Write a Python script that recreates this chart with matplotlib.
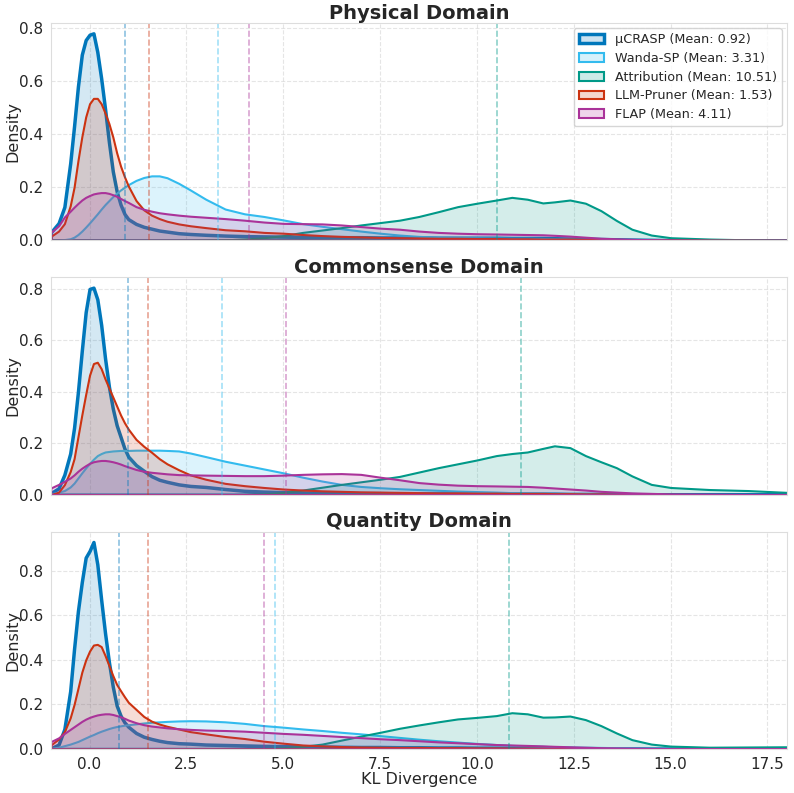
import numpy as np
import matplotlib
matplotlib.use("Agg")
import matplotlib.pyplot as plt
import seaborn as sns
from matplotlib.colors import to_rgba
from matplotlib.patches import Patch

#=======================================================
# Data (densities)
#=======================================================

kl_grid = [-1.0, -0.8, -0.65, -0.5, -0.4, -0.3, -0.2, -0.1, 0.0, 0.1,
           0.2, 0.3, 0.4, 0.5, 0.6, 0.7, 0.8, 0.9, 1.0, 1.2,
           1.4, 1.6, 1.8, 2.0, 2.3, 2.6, 3.0, 3.5, 4.0, 4.5,
           5.0, 5.5, 6.0, 6.5, 7.0, 7.5, 8.0, 8.5, 9.0, 9.5,
           10.0, 10.5, 10.9, 11.3, 11.7, 12.0, 12.4, 12.8, 13.2, 13.6,
           14.0, 14.5, 15.0, 16.0, 17.0, 18.0]

methods = ["µCRASP", "Wanda-SP", "Attribution", "LLM-Pruner", "FLAP"]
colors  = ["#0077BB", "#33BBEE", "#009988", "#CC3311", "#AA3399"]
domains = ["Physical Domain", "Commonsense Domain", "Quantity Domain"]

# Physical domain
phys_crasp = [0.03, 0.065, 0.126, 0.29, 0.43, 0.58, 0.70, 0.755, 0.775, 0.78,
              0.71, 0.61, 0.495, 0.37, 0.26, 0.185, 0.135, 0.10, 0.08, 0.062,
              0.051, 0.044, 0.037, 0.033, 0.027, 0.024, 0.021, 0.018, 0.016, 0.015,
              0.014, 0.013, 0.012, 0.012, 0.012, 0.011, 0.011, 0.011, 0.010, 0.010,
              0.010, 0.010, 0.009, 0.009, 0.009, 0.008, 0.007, 0.006, 0.005, 0.004,
              0.003, 0.002, 0.001, 0.0, 0.0, 0.0]
phys_wanda = [0.0, 0.001, 0.003, 0.006, 0.012, 0.022, 0.035, 0.05, 0.066, 0.083,
              0.10, 0.118, 0.135, 0.15, 0.165, 0.178, 0.19, 0.20, 0.21, 0.226,
              0.237, 0.243, 0.243, 0.236, 0.215, 0.19, 0.155, 0.118, 0.10, 0.09,
              0.077, 0.063, 0.053, 0.044, 0.035, 0.027, 0.02, 0.015, 0.012, 0.011,
              0.010, 0.009, 0.008, 0.008, 0.007, 0.006, 0.005, 0.004, 0.003, 0.002,
              0.001, 0.0, 0.0, 0.0, 0.0, 0.0]
phys_attr  = [0.0, 0.0, 0.0, 0.0, 0.0, 0.0, 0.0, 0.0, 0.0, 0.0,
              0.0, 0.0, 0.0, 0.0, 0.0, 0.0, 0.0, 0.0, 0.0, 0.0,
              0.0, 0.0, 0.0, 0.0, 0.0, 0.0, 0.001, 0.002, 0.005, 0.01,
              0.018, 0.03, 0.039, 0.048, 0.058, 0.067, 0.076, 0.09, 0.108, 0.127,
              0.14, 0.152, 0.162, 0.155, 0.141, 0.145, 0.152, 0.14, 0.112, 0.075,
              0.042, 0.02, 0.01, 0.005, 0.002, 0.0]
phys_llm   = [0.015, 0.035, 0.063, 0.13, 0.20, 0.30, 0.39, 0.465, 0.515, 0.535,
              0.535, 0.515, 0.48, 0.44, 0.39, 0.33, 0.28, 0.24, 0.205, 0.15,
              0.115, 0.095, 0.082, 0.072, 0.062, 0.055, 0.048, 0.04, 0.036, 0.03,
              0.027, 0.022, 0.018, 0.015, 0.013, 0.011, 0.01, 0.009, 0.008, 0.008,
              0.007, 0.007, 0.006, 0.006, 0.005, 0.005, 0.005, 0.004, 0.004, 0.003,
              0.002, 0.001, 0.001, 0.0, 0.0, 0.0]
phys_flap  = [0.03, 0.055, 0.088, 0.11, 0.125, 0.139, 0.152, 0.162, 0.169, 0.175,
              0.178, 0.18, 0.18, 0.177, 0.172, 0.166, 0.158, 0.15, 0.143, 0.127,
              0.117, 0.11, 0.104, 0.10, 0.095, 0.091, 0.087, 0.082, 0.076, 0.069,
              0.064, 0.063, 0.062, 0.058, 0.052, 0.046, 0.042, 0.035, 0.03, 0.027,
              0.025, 0.024, 0.023, 0.022, 0.021, 0.019, 0.016, 0.012, 0.008, 0.006,
              0.004, 0.002, 0.001, 0.0, 0.0, 0.0]

# Commonsense domain
comm_crasp = [0.006, 0.025, 0.078, 0.16, 0.26, 0.40, 0.56, 0.71, 0.80, 0.805,
              0.76, 0.66, 0.53, 0.42, 0.335, 0.27, 0.225, 0.18, 0.148, 0.115,
              0.093, 0.072, 0.058, 0.05, 0.04, 0.034, 0.03, 0.022, 0.015, 0.012,
              0.01, 0.008, 0.007, 0.007, 0.006, 0.006, 0.005, 0.005, 0.005, 0.005,
              0.005, 0.005, 0.004, 0.004, 0.004, 0.004, 0.003, 0.003, 0.003, 0.002,
              0.002, 0.001, 0.001, 0.0, 0.0, 0.0]
comm_wanda = [0.003, 0.01, 0.016, 0.03, 0.045, 0.065, 0.085, 0.104, 0.122, 0.138,
              0.152, 0.16, 0.166, 0.168, 0.17, 0.171, 0.172, 0.172, 0.172, 0.173,
              0.173, 0.173, 0.173, 0.172, 0.17, 0.162, 0.148, 0.13, 0.115, 0.10,
              0.085, 0.068, 0.053, 0.04, 0.032, 0.027, 0.023, 0.02, 0.017, 0.014,
              0.012, 0.01, 0.008, 0.007, 0.006, 0.005, 0.004, 0.003, 0.002, 0.002,
              0.001, 0.0, 0.0, 0.0, 0.0, 0.0]
comm_attr  = [0.0, 0.0, 0.0, 0.0, 0.0, 0.0, 0.0, 0.0, 0.0, 0.0,
              0.0, 0.0, 0.0, 0.0, 0.0, 0.0, 0.0, 0.0, 0.0, 0.0,
              0.0, 0.0, 0.0, 0.0, 0.0, 0.0, 0.0, 0.0, 0.001, 0.003,
              0.009, 0.018, 0.029, 0.04, 0.05, 0.06, 0.071, 0.088, 0.105, 0.12,
              0.135, 0.152, 0.16, 0.166, 0.18, 0.19, 0.183, 0.152, 0.128, 0.105,
              0.073, 0.04, 0.028, 0.02, 0.016, 0.009]
comm_llm   = [0.0, 0.01, 0.039, 0.09, 0.14, 0.225, 0.31, 0.39, 0.465, 0.51,
              0.515, 0.49, 0.45, 0.415, 0.38, 0.345, 0.31, 0.28, 0.255, 0.215,
              0.188, 0.165, 0.14, 0.12, 0.097, 0.077, 0.06, 0.044, 0.035, 0.028,
              0.022, 0.018, 0.015, 0.013, 0.011, 0.01, 0.009, 0.008, 0.007, 0.007,
              0.006, 0.006, 0.005, 0.005, 0.005, 0.004, 0.004, 0.003, 0.003, 0.002,
              0.002, 0.001, 0.001, 0.0, 0.0, 0.0]
comm_flap  = [0.026, 0.04, 0.052, 0.065, 0.077, 0.091, 0.103, 0.113, 0.122, 0.128,
              0.131, 0.133, 0.133, 0.131, 0.128, 0.124, 0.119, 0.113, 0.108, 0.098,
              0.091, 0.087, 0.084, 0.081, 0.078, 0.077, 0.076, 0.075, 0.074, 0.074,
              0.076, 0.079, 0.081, 0.082, 0.079, 0.068, 0.058, 0.047, 0.041, 0.037,
              0.035, 0.034, 0.033, 0.032, 0.029, 0.026, 0.022, 0.018, 0.013, 0.01,
              0.007, 0.005, 0.003, 0.002, 0.001, 0.001]

# Quantity domain
quan_crasp = [0.003, 0.02, 0.09, 0.26, 0.45, 0.62, 0.75, 0.86, 0.89, 0.93,
              0.83, 0.67, 0.52, 0.39, 0.28, 0.195, 0.15, 0.12, 0.10, 0.072,
              0.055, 0.045, 0.037, 0.031, 0.026, 0.024, 0.02, 0.018, 0.016, 0.014,
              0.013, 0.012, 0.011, 0.01, 0.009, 0.009, 0.008, 0.008, 0.007, 0.007,
              0.006, 0.006, 0.005, 0.005, 0.005, 0.004, 0.004, 0.003, 0.003, 0.002,
              0.002, 0.001, 0.001, 0.0, 0.0, 0.0]
quan_wanda = [0.003, 0.008, 0.015, 0.022, 0.028, 0.034, 0.042, 0.05, 0.058, 0.065,
              0.073, 0.08, 0.086, 0.092, 0.097, 0.101, 0.104, 0.107, 0.109, 0.113,
              0.117, 0.12, 0.122, 0.124, 0.126, 0.127, 0.126, 0.122, 0.115, 0.105,
              0.098, 0.09, 0.083, 0.075, 0.068, 0.06, 0.052, 0.044, 0.037, 0.031,
              0.025, 0.02, 0.016, 0.014, 0.012, 0.01, 0.009, 0.008, 0.007, 0.006,
              0.005, 0.004, 0.003, 0.002, 0.001, 0.0]
quan_attr  = [0.0, 0.0, 0.0, 0.0, 0.0, 0.0, 0.0, 0.0, 0.0, 0.0,
              0.0, 0.0, 0.0, 0.0, 0.0, 0.0, 0.0, 0.0, 0.0, 0.0,
              0.0, 0.0, 0.0, 0.0, 0.0, 0.0, 0.0, 0.0, 0.0, 0.002,
              0.006, 0.012, 0.022, 0.04, 0.058, 0.075, 0.093, 0.108, 0.122, 0.135,
              0.142, 0.15, 0.163, 0.158, 0.143, 0.144, 0.148, 0.132, 0.105, 0.072,
              0.042, 0.022, 0.013, 0.008, 0.009, 0.01]
quan_llm   = [0.018, 0.045, 0.078, 0.14, 0.20, 0.272, 0.345, 0.40, 0.44, 0.467,
              0.47, 0.46, 0.42, 0.375, 0.33, 0.29, 0.262, 0.235, 0.21, 0.178,
              0.146, 0.125, 0.112, 0.102, 0.09, 0.078, 0.068, 0.056, 0.047, 0.035,
              0.026, 0.018, 0.014, 0.011, 0.009, 0.008, 0.007, 0.007, 0.006, 0.006,
              0.005, 0.005, 0.004, 0.004, 0.004, 0.003, 0.003, 0.002, 0.002, 0.002,
              0.001, 0.001, 0.0, 0.0, 0.0, 0.0]
quan_flap  = [0.033, 0.05, 0.07, 0.088, 0.10, 0.112, 0.124, 0.134, 0.142, 0.148,
              0.153, 0.156, 0.158, 0.158, 0.155, 0.15, 0.145, 0.138, 0.13, 0.118,
              0.109, 0.103, 0.099, 0.095, 0.091, 0.088, 0.085, 0.083, 0.08, 0.075,
              0.07, 0.066, 0.061, 0.056, 0.051, 0.046, 0.042, 0.037, 0.032, 0.028,
              0.024, 0.02, 0.018, 0.016, 0.014, 0.012, 0.01, 0.008, 0.006, 0.005,
              0.004, 0.003, 0.002, 0.001, 0.0, 0.0]

# mean KL per method (legend order)
phys_means = [0.92, 3.31, 10.51, 1.53, 4.11]
comm_means = [0.98, 3.41, 11.14, 1.50, 5.06]
quan_means = [0.75, 4.78, 10.83, 1.52, 4.50]

#=======================================================
# Plot
#=======================================================

sns.set_style("whitegrid")
plt.rcParams['font.family'] = ['DejaVu Sans']

panels = [
    (domains[0], [phys_crasp, phys_wanda, phys_attr, phys_llm, phys_flap], phys_means),
    (domains[1], [comm_crasp, comm_wanda, comm_attr, comm_llm, comm_flap], comm_means),
    (domains[2], [quan_crasp, quan_wanda, quan_attr, quan_llm, quan_flap], quan_means),
]

x = np.array(kl_grid)
fig, axes = plt.subplots(3, 1, figsize=(7.94, 7.93), dpi=100, sharex=True)
fig.subplots_adjust(left=0.064, right=0.991, top=0.971, bottom=0.0555, hspace=0.17)

for ax, (title, curves, means) in zip(axes, panels):
    ymax = 0
    for name, c, dens in zip(methods, colors, curves):
        lw = 2.5 if name == "µCRASP" else 1.5
        y = np.array(dens)
        ax.fill_between(x, y, 0, facecolor=to_rgba(c, 0.17), edgecolor=c, linewidth=lw)
        ymax = max(ymax, y.max())
    for c, m in zip(colors, means):
        ax.axvline(m, color=c, linestyle='--', linewidth=1.2, alpha=0.45)

    ax.set_xlim(-1, 18)
    ax.set_ylim(0, ymax * 1.05)
    ax.set_yticks([0.0, 0.2, 0.4, 0.6, 0.8])
    ax.set_title(title, fontsize=14, fontweight='bold', pad=3)
    ax.set_ylabel('Density', fontsize=11.5)
    ax.yaxis.set_label_coords(-0.041, 0.5)
    ax.tick_params(labelsize=11, pad=2)
    ax.grid(True, linestyle='--', alpha=0.5)
    for s in ax.spines.values():
        s.set_color('#dddddd')

axes[2].set_xticks([0.0, 2.5, 5.0, 7.5, 10.0, 12.5, 15.0, 17.5])
axes[2].set_xlabel('KL Divergence', fontsize=11.5, labelpad=0)

handles = []
for name, c, m in zip(methods, colors, phys_means):
    lw = 2.5 if name == "µCRASP" else 1.5
    handles.append(Patch(facecolor=to_rgba(c, 0.2), edgecolor=c, linewidth=lw,
                         label="%s (Mean: %.2f)" % (name, m)))
axes[0].legend(handles=handles, loc='upper right', fontsize=9.2, frameon=True,
               labelspacing=0.45, borderaxespad=0.4)

plt.savefig('out.png', dpi=100)
